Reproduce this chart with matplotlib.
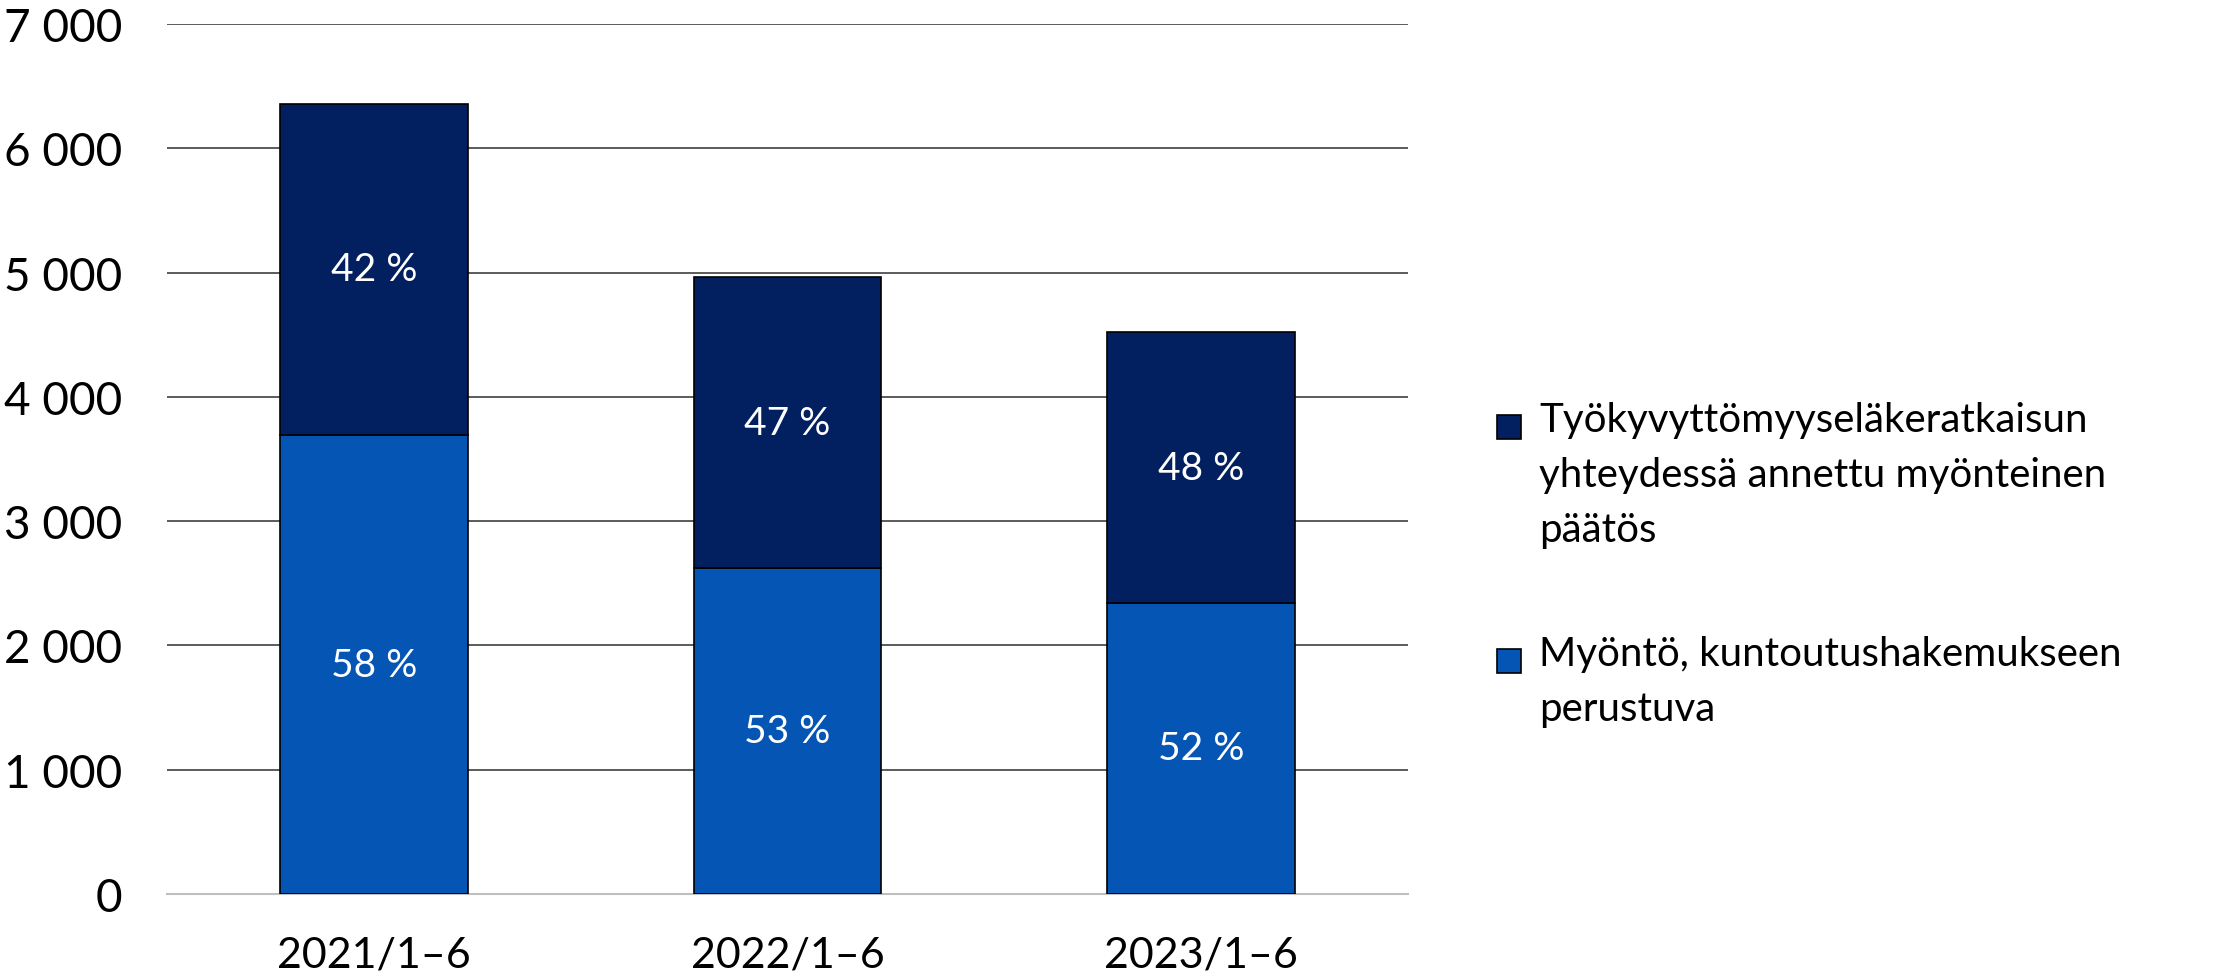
import matplotlib.pyplot as plt
from matplotlib.ticker import FuncFormatter
from matplotlib.patches import Rectangle

periods = ["2021/1\u20136", "2022/1\u20136", "2023/1\u20136"]
kuntoutus = [3692, 2621, 2345]      # Myöntö, kuntoutushakemukseen perustuva
tyokyvyttomyys = [2668, 2342, 2173] # työkyvyttömyyseläkeratkaisun yhteydessä

label_top = "Työkyvyttömyyseläkeratkaisun\nyhteydessä annettu myönteinen\npäätös"
label_bottom = "Myöntö, kuntoutushakemukseen\nperustuva"

c_dark = "#02205F"
c_blue = "#0556B4"

plt.rcParams["font.family"] = ["Lato", "DejaVu Sans"]

W, H = 2214, 979
fig = plt.figure(figsize=(W / 100, H / 100), dpi=100)
ax = fig.add_axes([167 / W, 1 - 895 / H, (1408 - 167) / W, (895 - 25) / H])

x = range(len(periods))
w = 0.454
ax.bar(x, kuntoutus, w, color=c_blue, edgecolor="black", linewidth=1.2, zorder=3)
ax.bar(x, tyokyvyttomyys, w, bottom=kuntoutus, color=c_dark, edgecolor="black", linewidth=1.2, zorder=3)

for i in x:
    tot = kuntoutus[i] + tyokyvyttomyys[i]
    p1 = round(kuntoutus[i] / tot * 100)
    p2 = 100 - p1
    ax.text(i, kuntoutus[i] / 2, f"{p1} %", color="white", ha="center", va="center", fontsize=28, zorder=4)
    ax.text(i, kuntoutus[i] + tyokyvyttomyys[i] / 2, f"{p2} %", color="white", ha="center", va="center", fontsize=28, zorder=4)

ax.set_xlim(-0.5, 2.5)
ax.set_ylim(0, 7000)
ax.set_yticks(range(0, 7001, 1000))
ax.yaxis.set_major_formatter(FuncFormatter(lambda v, p: f"{int(v):,}".replace(",", " ")))
ax.set_xticks(list(x))
ax.set_xticklabels(periods)
ax.grid(axis="y", color="#404040", linewidth=1.2, zorder=0)
for s in ["top", "right", "left"]:
    ax.spines[s].set_visible(False)
ax.spines["bottom"].set_color("#BFBFBF")
ax.spines["bottom"].set_linewidth(1.5)
ax.tick_params(axis="y", length=0, labelsize=33, pad=32)
ax.tick_params(axis="x", length=0, labelsize=31, pad=30)

# legend drawn by hand so the square sits beside the first line
sq = 24
for label, col, ytop in [(label_top, c_dark, 428), (label_bottom, c_blue, 662)]:
    fig.add_artist(Rectangle(((1497) / W, 1 - (ytop + sq / 2) / H), sq / W, sq / H,
                             facecolor=col, edgecolor="black", linewidth=1.2, transform=fig.transFigure))
    fig.text(1539 / W, 1 - (ytop - 26) / H, label, fontsize=29, va="top", ha="left", linespacing=1.6)

fig.savefig("out.png", dpi=100)
